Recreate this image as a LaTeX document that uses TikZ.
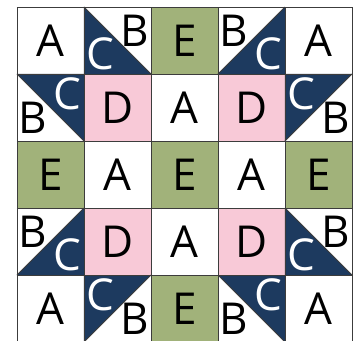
\documentclass[tikz,border=0pt]{standalone}
\usepackage{fontspec}
\setmainfont{Open Sans}
\definecolor{quiltgreen}{HTML}{A1B27A}
\definecolor{quiltpink}{HTML}{F8C9D7}
\definecolor{quiltnavy}{HTML}{1D3A5F}
\definecolor{seamgray}{HTML}{3C3C3C}
\tikzset{
  seam/.style={draw=seamgray, line width=0.8pt},
  letter/.style={font=\fontsize{44}{44}\selectfont, text=black, inner sep=0pt},
  cletter/.style={letter, text=white}
}
\begin{document}
\begin{tikzpicture}[x=67pt, y=67pt]
  \useasboundingbox (-0.2537,0.1045) rectangle (5.0299,-4.985);

  % Plain patches
  \foreach \c/\r in {2/0, 0/2, 2/2, 4/2, 2/4}
    \fill[quiltgreen] (\c,-\r) rectangle ++(1,-1);
  \foreach \c/\r in {1/1, 3/1, 1/3, 3/3}
    \fill[quiltpink] (\c,-\r) rectangle ++(1,-1);

  % Half-square triangles (B corner given by sx, sy)
  \foreach \c/\r/\sx/\sy in {1/0/1/1, 3/0/-1/1, 0/1/-1/-1, 4/1/1/-1,
                              0/3/-1/1, 4/3/1/1, 1/4/1/-1, 3/4/-1/-1} {
    \fill[quiltnavy] ({\c+0.5-0.5*\sx},{-\r-0.5-0.5*\sy})
      -- ({\c+0.5+0.5*\sx},{-\r-0.5-0.5*\sy})
      -- ({\c+0.5-0.5*\sx},{-\r-0.5+0.5*\sy}) -- cycle;
    \draw[seam] ({\c+0.5+0.5*\sx},{-\r-0.5-0.5*\sy})
      -- ({\c+0.5-0.5*\sx},{-\r-0.5+0.5*\sy}); % diagonal
    \node[letter]  (B-\c-\r) at ({\c+0.5+0.26*\sx},{-\r-0.5+0.15*\sy}) {B};
    \node[cletter] (C-\c-\r) at ({\c+0.5-0.25*\sx},{-\r-0.5-0.2*\sy}) {C};
  }

  % Seams
  \draw[seam, step={(1,1)}] (0,-5) grid (5,0);

  % Labels
  \foreach \c/\r in {0/0, 4/0, 2/1, 1/2, 3/2, 2/3, 0/4, 4/4}
    \node[letter] (A-\c-\r) at (\c+0.5,-\r-0.5) {A};
  \foreach \c/\r in {1/1, 3/1, 1/3, 3/3}
    \node[letter] (D-\c-\r) at (\c+0.5,-\r-0.5) {D};
  \foreach \c/\r in {2/0, 0/2, 2/2, 4/2, 2/4}
    \node[letter] (E-\c-\r) at (\c+0.5,-\r-0.5) {E};
\end{tikzpicture}
\end{document}
